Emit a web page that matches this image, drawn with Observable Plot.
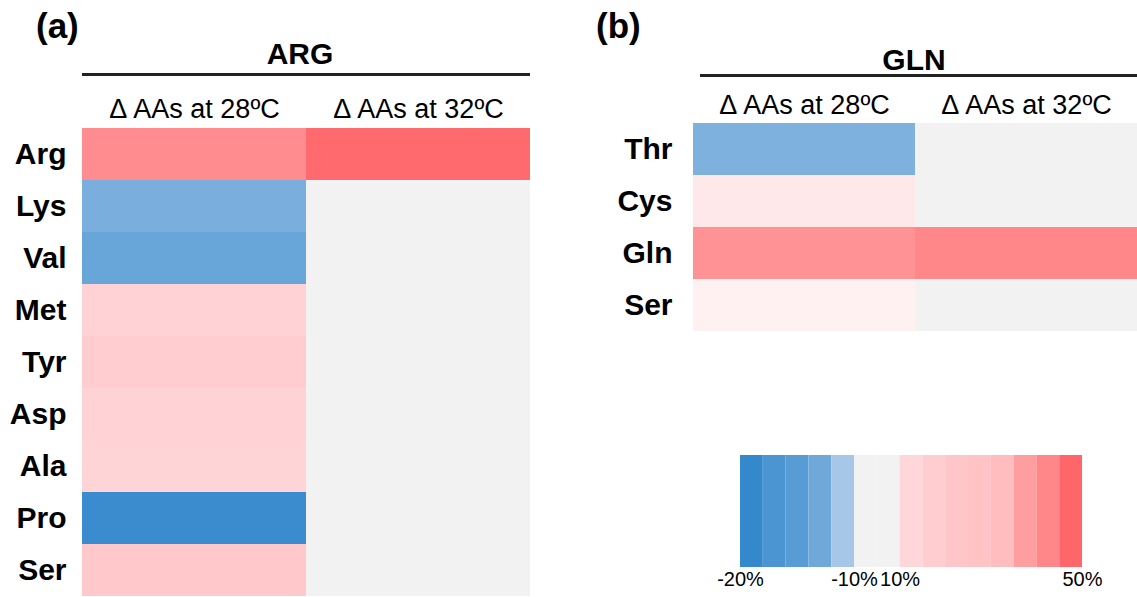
<!DOCTYPE html>
<html><head><meta charset="utf-8">
<script src="https://cdn.jsdelivr.net/npm/d3@7"></script>
<script src="https://cdn.jsdelivr.net/npm/@observablehq/plot@0.6"></script>
<style>
body{margin:0;background:#fff;font-family:"Liberation Sans",Arial,sans-serif;color:#000;}
#wrap{position:relative;width:1137px;height:597px;overflow:hidden;background:#fff;}
.abs{position:absolute;line-height:1;white-space:nowrap;}
.letter{font-weight:bold;font-size:35px;}
.title{font-weight:bold;font-size:30px;text-align:center;}
.rule{height:3px;background:#222;}
svg{overflow:visible;}
</style></head>
<body><div id="wrap"></div>
<script>
// ---- data ----
const columns = ["Δ AAs at 28ºC", "Δ AAs at 32ºC"];
const argRows = ["Arg","Lys","Val","Met","Tyr","Asp","Ala","Pro","Ser"];
const arg28 = [38.9, -13.9, -15.5, 19.2, 20.8, 19.2, 19.0, -19.4, 22.0];
const arg32 = [48.3, 0, 0, 0, 0, 0, 0, 0, 0];
const glnRows = ["Thr","Cys","Gln","Ser"];
const gln28 = [-13.6, 13.3, 37.2, 11.1];
const gln32 = [0, 0, 40.3, 0];
const legendSteps = [-19.9, -18, -16.8, -14.9, -10.1, 0, 0, 18.3, 21.1, 22.8, 23.9, 25.3, 33.9, 40.3, 49.4];
const legendTickPos = [0, 5, 7, 15];
const legendTickLabels = ["-20%", "-10%", "10%", "50%"];

// ---- build tables ----
function table(rows, a, b) {
  const out = [];
  rows.forEach((r, i) => {
    out.push({row: r, col: columns[0], value: a[i]});
    out.push({row: r, col: columns[1], value: b[i]});
  });
  return out;
}
const argData = table(argRows, arg28, arg32);
const glnData = table(glnRows, gln28, gln32);

const colorOpts = {
  type: "linear",
  domain: [-20, -10, -9.99, 9.99, 10, 50],
  range: ["#3388CC", "#A8C8E8", "#F2F2F2", "#F2F2F2", "#FFF4F6", "#FF6468"],
  interpolate: "rgb"
};
const font = "Liberation Sans, Arial, sans-serif";

function heat(data, rows, opts) {
  return Plot.plot({
    width: opts.width, height: opts.height,
    marginTop: opts.marginTop, marginLeft: opts.marginLeft,
    marginRight: opts.marginRight, marginBottom: 0,
    style: {fontFamily: font, background: "transparent", color: "#000"},
    x: {domain: columns, padding: 0, axis: null},
    y: {domain: rows, padding: 0, axis: null},
    color: colorOpts,
    marks: [
      Plot.cell(data, {x: "col", y: "row", fill: "value"}),
      Plot.axisX({anchor: "top", label: null, tickSize: 0, tickPadding: 10, fontSize: 27}),
      Plot.axisY({anchor: "left", label: null, tickSize: 0, tickPadding: opts.pad, fontSize: 30, fontWeight: "bold"})
    ]
  });
}

const wrap = document.getElementById("wrap");
function place(el, left, top) {
  el.style.position = "absolute"; el.style.left = left + "px"; el.style.top = top + "px";
  wrap.appendChild(el);
}
function div(cls, text, css) {
  const d = document.createElement("div");
  d.className = "abs " + cls; d.textContent = text;
  Object.assign(d.style, css);
  wrap.appendChild(d);
  return d;
}

const pa = heat(argData, argRows, {width: 540, height: 597, marginTop: 127, marginLeft: 82, marginRight: 10, pad: 16});
place(pa, 0, 0);
const pb = heat(glnData, glnRows, {width: 577, height: 331, marginTop: 123, marginLeft: 132, marginRight: 0, pad: 20});
place(pb, 560, 0);

const leg = Plot.plot({
  width: 437, height: 157,
  marginTop: 15, marginBottom: 30, marginLeft: 40, marginRight: 55,
  style: {fontFamily: font, background: "transparent", color: "#000"},
  x: {domain: [0, legendSteps.length], axis: null},
  color: colorOpts,
  marks: [
    Plot.barX(legendSteps, {x1: (d, i) => i, x2: (d, i) => i + 1, fill: d => d}),
    Plot.axisX({anchor: "bottom", label: null, ticks: legendTickPos, tickFormat: (d) => legendTickLabels[legendTickPos.indexOf(d)], tickSize: 0, tickPadding: 4, fontSize: 20})
  ]
});
place(leg, 700, 440);

div("letter", "(a)", {left: "36px", top: "8px"});
div("letter", "(b)", {left: "596px", top: "8px"});
div("title", "ARG", {left: "200px", width: "200px", top: "39px"});
div("title", "GLN", {left: "814px", width: "200px", top: "45px"});
div("rule", "", {left: "82px", width: "448px", top: "73px"});
div("rule", "", {left: "700px", width: "437px", top: "74px"});
</script>
</body></html>
